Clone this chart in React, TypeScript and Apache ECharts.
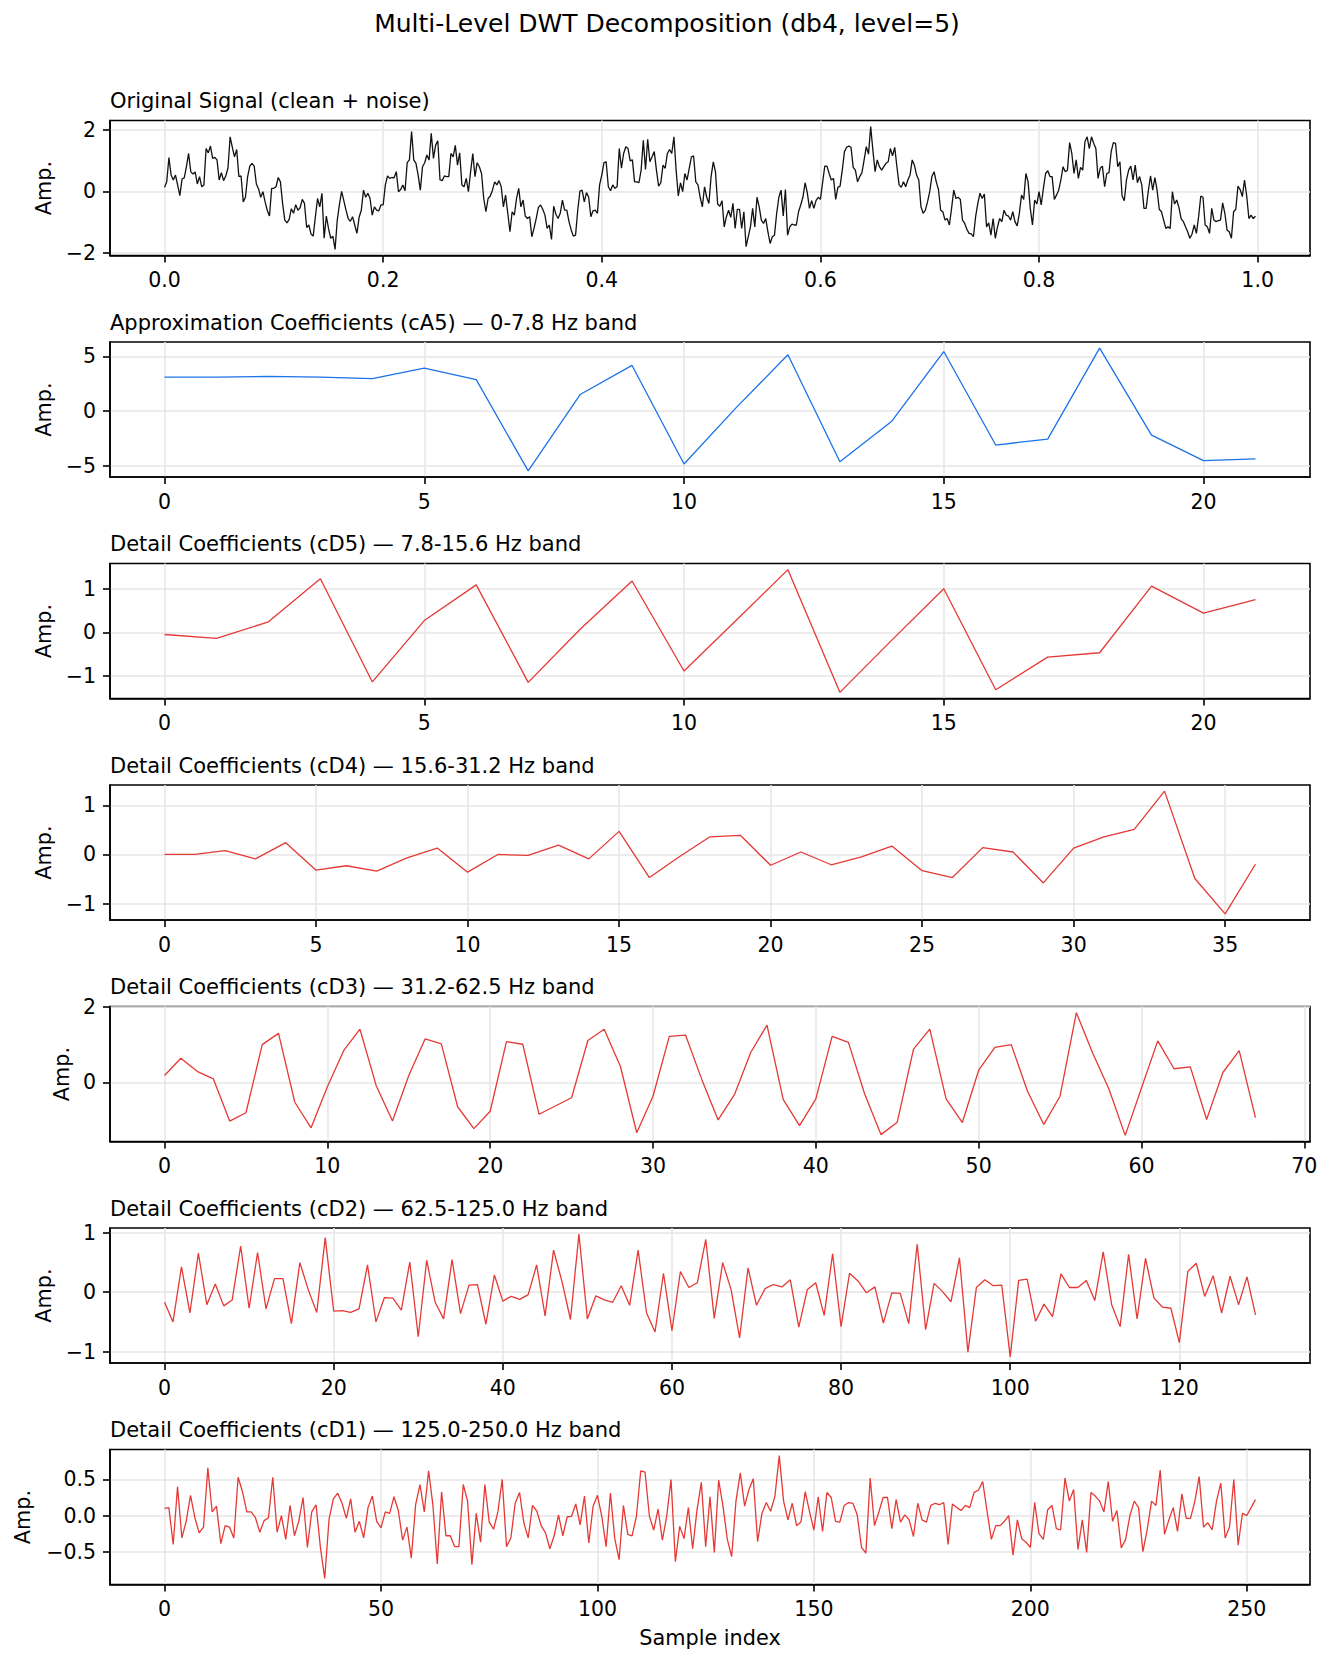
import React, { useEffect, useRef } from "react";
import * as echarts from "echarts";

// ---------------- data ----------------
const SAMPLE_RATE = 500;

const signal = [
  0.13, 0.31, 1.10, 0.53, 0.37, 0.53, 0.20, -0.14, 0.40, 0.44,
  0.80, 1.23, 0.64, 0.56, 0.63, 0.24, 0.48, 0.15, 0.21, 1.39,
  1.25, 1.47, 1.07, 1.10, 1.02, 0.37, 0.61, 0.35, 0.50, 0.75,
  1.77, 1.43, 1.12, 1.36, 0.48, 0.50, -0.34, -0.19, 0.48, 0.82,
  0.91, 0.82, 0.24, 0.08, -0.19, -0.01, -0.34, -0.62, -0.80, 0.10,
  0.10, 0.15, 0.45, 0.31, -0.39, -0.93, -1.02, -0.91, -0.56, -0.71,
  -0.43, -0.61, -0.53, -0.26, -0.39, -1.17, -1.09, -1.38, -1.45, -0.82,
  -0.23, -0.50, -0.06, -1.52, -0.80, -1.20, -1.52, -1.45, -1.88, -0.93,
  -0.42, 0.00, -0.30,
  -0.61, -0.88, -0.97, -0.82, -1.09, -1.36, -0.84, -0.61, 0.04, -0.19,
  -0.06, -0.23, -0.77, -0.50, -0.61, -0.63, -0.44, -0.44, 0.21, 0.50,
  0.42, 0.45, 0.44, 0.64, -0.01, 0.06, 0.21, 0.02, 0.93, 1.02,
  1.94, 1.02, 0.91, 0.53, 0.04, 0.80, 0.93, 1.18, 1.02, 1.88,
  1.07, 1.50, 1.64, 0.37, 0.35, 0.50, 0.48, 0.48, 1.23, 1.12,
  1.49, 0.85, 1.25, 0.21, 0.15, 0.42, -0.01, 0.64, 1.23, 0.48,
  0.93, 0.80, 0.58, -0.23, -0.66, -0.23, -0.15, 0.04, 0.31, 0.21,
  0.35, 0.15, -0.50, -0.12, -0.71, -1.31, -0.66, -0.77, -0.23, 0.10,
  -0.50, -0.28, -0.80, -0.88, -0.82, -1.47, -1.20, -0.88, -0.52, -0.44,
  -0.58, -0.77, -1.20, -1.09, -1.56, -0.48, -0.74, -0.88, -0.71, -0.28,
  -0.61, -0.61, -0.98, -1.25, -1.45, -1.42, -0.61, 0.01, 0.04, -0.34,
  -0.04, -0.19, -0.82, -0.63, -0.61, -0.71, 0.21, 0.53, 0.93, 0.96,
  0.15, 0.02, 0.21, 0.10, 0.15, 1.39, 0.75, 1.23, 1.45, 1.39,
  0.99, 1.02, 0.31, 0.31, 0.28, 0.69, 1.66, 0.71, 1.69, 0.96,
  1.12, 1.29, 0.69, 0.17, 0.28, 0.85, 0.75, 1.23, 1.36, 1.23,
  1.77, 0.69, -0.15, 0.28, -0.01, 0.58, 0.37, 0.75, 1.12, 1.15,
  0.31, 0.21, -0.19, -0.50, 0.15, -0.19, -0.39, 0.48, 0.96, 0.64,
  -0.41, -0.48, -0.30, -1.15, -0.82, -0.61, -0.84, -0.39, -1.20, -0.58,
  -0.58, -1.20, -0.66, -1.79, -1.47, -1.15, -0.55, -1.15, -0.19, -0.50,
  -0.93, -1.04, -0.88, -1.31, -1.69, -1.47, -1.42, -0.71, -0.19, 0.04,
  -0.80, 0.06, -1.42, -1.15, -1.06, -1.09, -1.09, -0.66, -0.44, -0.19,
  0.28, -0.04, -0.55, -0.30, -0.55, -0.30, -0.19, -0.26, 0.28, 0.82,
  0.82, 0.58, 0.37, 0.42, -0.26, 0.13, 0.17, 0.69, 1.29, 1.43,
  1.47, 1.43, 0.78, 0.69, 0.31, 0.48, 0.61, 1.02, 1.45, 1.21,
  2.10, 1.34, 0.64, 1.02, 0.80, 0.69, 0.80, 0.91, 0.96, 1.39,
  1.15, 1.43, 0.80, 0.21, 0.13, 0.31, 0.15, 0.37, 0.53, 1.02,
  0.85, 0.53, 0.37,
  -0.50, -0.71, -0.61, -0.34, -0.01, 0.48, 0.64, 0.31, 0.06, -0.61,
  -0.66, -0.93, -0.88, -1.09, -0.55, 0.04, -0.23, -0.19, -0.26, -0.93,
  -1.04, -1.23, -1.36, -1.38, -1.47, -0.82, -0.39, -0.06, -0.23, -0.09,
  -1.15, -1.02, -1.42, -0.88, -1.52, -1.15, -0.88, -0.98, -0.61, -0.77,
  -0.80, -0.93, -0.66, -0.98, -1.12, -0.71, -0.12, -0.26, 0.58, 0.31,
  -0.55, -1.09, -0.28, -0.41, -0.01, -0.44, 0.10, 0.58, 0.67, 0.48,
  0.48, -0.26, -0.12, 0.04, 0.37, 0.80, 0.64, 0.69, 1.58, 1.23,
  0.58, 1.02, 0.42, 0.78, 0.69, 1.61, 1.77, 1.39, 1.77, 1.56,
  1.39, 0.42, 0.75, 0.82, 0.15, 0.58, 0.61, 1.29, 1.58, 1.56,
  0.80, 0.96, -0.15, -0.30, 0.37, 0.69, 0.82, 0.37, 0.85, 0.28,
  0.48, 0.21, -0.55, -0.55, 0.02, 0.50, 0.04, 0.45, 0.04, -0.58,
  -0.66, -0.93, -1.20, -1.15, -1.20, -0.01, -0.41, -0.28, -0.52, -0.88,
  -0.98, -1.15, -1.31, -1.52, -1.38, -1.09, -1.36, -0.82, -0.15, -0.19,
  -1.09, -1.15, -1.36, -0.55, -0.93, -0.98, -0.95, -0.93, -0.37, -0.71,
  -1.25, -1.31, -1.52, -0.66, -0.58, 0.17, 0.06, -0.17, 0.37, -0.15,
  -0.88, -0.77, -0.88, -0.80,
];

const cA5 = [3.12, 3.12, 3.18, 3.12, 2.97, 3.94, 2.88, -5.45, 1.52, 4.18, -4.82, 0.30, 5.15, -4.61, -0.91, 5.45, -3.09, -2.55, 5.76, -2.18, -4.52, -4.36];

const cD5 = [-0.05, -0.14, 0.24, 1.23, -1.14, 0.27, 1.09, -1.15, 0.07, 1.18, -0.89, 0.27, 1.44, -1.38, -0.18, 1.00, -1.32, -0.57, -0.47, 1.06, 0.44, 0.75];

const cD4 = [0.00, 0.00, 0.08, -0.09, 0.24, -0.32, -0.23, -0.34, -0.07, 0.13, -0.36, 0.00, -0.02, 0.19, -0.09, 0.47, -0.47, -0.04, 0.36, 0.39, -0.22, 0.05, -0.21, -0.05, 0.17, -0.33, -0.47, 0.14, 0.05, -0.58, 0.13, 0.36, 0.51, 1.29, -0.49, -1.21, -0.20];

const cD3 = [
  0.18, 0.64, 0.29, 0.09, -1.03, -0.81, 1.00, 1.30, -0.53, -1.21,
  -0.12, 0.84, 1.41, -0.09, -1.03, 0.18, 1.15, 1.02, -0.65, -1.23,
  -0.77, 1.08, 1.01, -0.85, -0.63, -0.41, 1.11, 1.41, 0.42, -1.34,
  -0.37, 1.22, 1.25, 0.07, -1.00, -0.33, 0.79, 1.52, -0.46, -1.15,
  -0.44, 1.22, 1.06, -0.31, -1.39, -1.06, 0.88, 1.41, -0.44, -1.07,
  0.32, 0.93, 1.00, -0.24, -1.12, -0.37, 1.85, 0.78, -0.18, -1.41,
  -0.15, 1.10, 0.36, 0.41, -0.99, 0.26, 0.84, -0.94,
];

const cD2 = [
  -0.17, -0.50, 0.43, -0.35, 0.66, -0.21, 0.14, -0.23, -0.13, 0.78,
  -0.27, 0.67, -0.28, 0.23, 0.23, -0.53, 0.50, 0.04, -0.34, 0.92,
  -0.32, -0.31, -0.34, -0.28, 0.46, -0.50, -0.09, -0.10, -0.30, 0.51,
  -0.75, 0.54, -0.17, -0.45, 0.55, -0.36, 0.12, 0.13, -0.54, 0.29,
  -0.15, -0.07, -0.12, -0.04, 0.46, -0.40, 0.71, 0.18, -0.46, 0.98,
  -0.45, -0.06, -0.13, -0.17, 0.11, -0.22, 0.71, -0.35, -0.67, 0.32,
  -0.65, 0.35, 0.08, 0.16, 0.89, -0.44, 0.50, 0.04, -0.77, 0.41,
  -0.22, 0.06, 0.13, 0.09, 0.21, -0.59, 0.04, 0.16, -0.39, 0.65,
  -0.58, 0.32, 0.19, -0.01, 0.09, -0.52, -0.01, -0.02, -0.53, 0.81,
  -0.63, 0.15, 0.01, -0.16, 0.58, -1.01, 0.08, 0.21, 0.11, 0.12,
  -1.09, 0.20, 0.22, -0.49, -0.20, -0.41, 0.31, 0.08, 0.08, 0.20,
  -0.14, 0.68, -0.21, -0.58, 0.64, -0.45, 0.57, -0.10, -0.25, -0.27,
  -0.85, 0.35, 0.49, -0.07, 0.28, -0.35, 0.27, -0.21, 0.26, -0.38,
];

const cD1 = [
  0.10, 0.11, -0.40, 0.40, -0.31, -0.08, 0.28, -0.03, -0.24, -0.16,
  0.66, 0.05, 0.13, -0.39, -0.14, -0.16, -0.31, 0.53, 0.33, 0.05,
  0.05, -0.03, -0.23, -0.07, -0.03, 0.53, -0.23, 0.00, -0.33, 0.14,
  -0.28, -0.08, 0.25, -0.44, 0.05, 0.15, -0.44, -0.87, -0.05, 0.23,
  0.31, 0.17, -0.04, 0.23, -0.23, -0.08, -0.31, 0.11, 0.27, -0.08,
  -0.17, 0.05, 0.03, 0.26, 0.07, -0.34, -0.16, -0.59, 0.15, 0.43,
  0.05, 0.62, 0.14, -0.67, 0.33, -0.28, -0.28, -0.43, -0.43, 0.43,
  0.20, -0.68, 0.03, -0.37, 0.43, -0.09, -0.19, 0.05, 0.50, -0.43,
  -0.31, 0.17, 0.32, -0.10, -0.31, 0.14, 0.06, -0.14, -0.24, -0.46,
  -0.28, 0.01, -0.28, -0.02, -0.01, 0.16, -0.13, 0.27, -0.38, 0.13,
  0.28, -0.01, -0.43, 0.31, -0.32, -0.61, 0.14, -0.26, -0.28, -0.01,
  0.62, 0.60, -0.01, -0.20, 0.09, -0.34, -0.01, 0.50, -0.64, -0.15,
  -0.32, 0.11, -0.46, 0.08, 0.46, -0.43, 0.26, -0.51, 0.49, 0.13,
  -0.33, -0.57, 0.20, 0.59, 0.13, 0.36, 0.51, -0.36, 0.03, 0.18,
  0.06, 0.27, 0.83, 0.20, -0.06, 0.17, -0.14, -0.09, 0.33, 0.05,
  -0.20, 0.26, -0.22, 0.32, 0.25, -0.08, -0.09, 0.14, 0.18, 0.17,
  0.01, -0.44, -0.52, 0.52, -0.14, 0.05, 0.25, 0.25, -0.18, 0.22,
  -0.09, 0.01, -0.06, -0.29, 0.17, -0.06, -0.09, 0.14, 0.17, 0.15,
  0.18, -0.40, 0.16, 0.11, 0.07, 0.14, 0.11, 0.32, 0.35, 0.47,
  0.06, -0.33, -0.14, -0.14, -0.08, 0.00, -0.55, -0.06, -0.32, -0.37,
  -0.44, 0.18, -0.25, -0.33, 0.08, 0.14, -0.18, -0.20, 0.52, 0.20,
  0.36, -0.47, -0.06, -0.51, 0.32, 0.27, 0.20, 0.05, 0.47, -0.08,
  0.07, -0.45, -0.33, 0.00, 0.20, 0.11, -0.50, -0.19, 0.20, 0.14,
  0.63, -0.26, -0.06, 0.11, -0.22, 0.30, -0.04, -0.04, 0.20, 0.54,
  -0.16, -0.10, -0.20, 0.20, 0.45, -0.31, -0.16, 0.50, -0.41, 0.03,
  0.00, 0.11, 0.22,
];

const suptitle = "Multi-Level DWT Decomposition (db4, level=5)";
const panelTitles = [
  "Original Signal (clean + noise)",
  "Approximation Coefficients (cA5) \u2014 0-7.8 Hz band",
  "Detail Coefficients (cD5) \u2014 7.8-15.6 Hz band",
  "Detail Coefficients (cD4) \u2014 15.6-31.2 Hz band",
  "Detail Coefficients (cD3) \u2014 31.2-62.5 Hz band",
  "Detail Coefficients (cD2) \u2014 62.5-125.0 Hz band",
  "Detail Coefficients (cD1) \u2014 125.0-250.0 Hz band",
];
const yLabel = "Amp.";
const xLabel = "Sample index";

const sigXTicks = [0, 0.2, 0.4, 0.6, 0.8, 1.0];
const sigYTicks = [-2, 0, 2];
const cA5XTicks = [0, 5, 10, 15, 20];
const cA5YTicks = [-5, 0, 5];
const cD5XTicks = [0, 5, 10, 15, 20];
const cD5YTicks = [-1, 0, 1];
const cD4XTicks = [0, 5, 10, 15, 20, 25, 30, 35];
const cD4YTicks = [-1, 0, 1];
const cD3XTicks = [0, 10, 20, 30, 40, 50, 60, 70];
const cD3YTicks = [0, 2];
const cD2XTicks = [0, 20, 40, 60, 80, 100, 120];
const cD2YTicks = [-1, 0, 1];
const cD1XTicks = [0, 50, 100, 150, 200, 250];
const cD1YTicks = [-0.5, 0, 0.5];

// ---------------- styling ----------------
const FONT = "DejaVu Sans";
const BLACK_LINE = "#111111";
const BLUE_LINE = "#1a73e8";
const RED_LINE = "#e53935";

const fmt = (v: number, dec: number) => {
  const s = Math.abs(v).toFixed(dec);
  return v < -1e-9 ? "\u2212" + s : s;
};

const padRange = (lo: number, hi: number) => {
  const r = hi - lo;
  return [lo - 0.05 * r, hi + 0.05 * r];
};

export default function App() {
  const ref = useRef<HTMLDivElement>(null);

  useEffect(() => {
    document.body.style.margin = "0";
    if (!ref.current) return;
    const chart = echarts.init(ref.current, undefined, { renderer: "svg" });

    const panels = [
      { title: panelTitles[0], vals: signal, xs: signal.map((_, i) => i / SAMPLE_RATE), color: BLACK_LINE, xT: sigXTicks, yT: sigYTicks, xd: 1, yd: 0, gap: 55 },
      { title: panelTitles[1], vals: cA5, xs: cA5.map((_, i) => i), color: BLUE_LINE, xT: cA5XTicks, yT: cA5YTicks, xd: 0, yd: 0, gap: 55 },
      { title: panelTitles[2], vals: cD5, xs: cD5.map((_, i) => i), color: RED_LINE, xT: cD5XTicks, yT: cD5YTicks, xd: 0, yd: 0, gap: 55 },
      { title: panelTitles[3], vals: cD4, xs: cD4.map((_, i) => i), color: RED_LINE, xT: cD4XTicks, yT: cD4YTicks, xd: 0, yd: 0, gap: 55 },
      { title: panelTitles[4], vals: cD3, xs: cD3.map((_, i) => i), color: RED_LINE, xT: cD3XTicks, yT: cD3YTicks, xd: 0, yd: 0, gap: 38 },
      { title: panelTitles[5], vals: cD2, xs: cD2.map((_, i) => i), color: RED_LINE, xT: cD2XTicks, yT: cD2YTicks, xd: 0, yd: 0, gap: 55 },
      { title: panelTitles[6], vals: cD1, xs: cD1.map((_, i) => i), color: RED_LINE, xT: cD1XTicks, yT: cD1YTicks, xd: 0, yd: 1, gap: 77 },
    ];

    const TOP0 = 120.5;
    const STEP = 221.5;
    const H = 135;
    const LEFT = 110;
    const W = 1200;
    const tickFont = 20.5;
    const labelFont = 20.8;
    const titleFont = 21;

    const grids: any[] = [];
    const xAxes: any[] = [];
    const yAxes: any[] = [];
    const series: any[] = [];
    const graphics: any[] = [
      {
        type: "text",
        x: 667,
        y: 23.5,
        style: {
          text: suptitle,
          fontSize: 25,
          fontFamily: FONT,
          fill: "#000",
          align: "center",
          verticalAlign: "middle",
          textAlign: "center",
          textVerticalAlign: "middle",
        },
      },
    ];

    panels.forEach((p, i) => {
      const top = TOP0 + STEP * i;
      grids.push({ left: LEFT, width: W, top, height: H, show: true, borderColor: "#000", borderWidth: 1.6, backgroundColor: "transparent", containLabel: false });
      const [xmin, xmax] = padRange(Math.min(...p.xs), Math.max(...p.xs));
      const [ymin, ymax] = padRange(Math.min(...p.vals), Math.max(...p.vals));
      const last = i === panels.length - 1;
      xAxes.push({
        type: "value",
        gridIndex: i,
        min: xmin,
        max: xmax,
        axisLine: { show: true, onZero: false, lineStyle: { color: "#000", width: 1.6 } },
        axisTick: { show: true, length: 7, inside: false, customValues: p.xT, lineStyle: { color: "#000", width: 1.6 } },
        axisLabel: {
          customValues: p.xT,
          margin: 14,
          fontSize: tickFont,
          fontFamily: FONT,
          color: "#000",
          formatter: (v: number) => fmt(v, p.xd),
        },
        splitLine: { show: true, lineStyle: { color: "#e6e6e6", width: 1.5 } },
        name: last ? xLabel : "",
        nameLocation: "middle",
        nameGap: 43,
        nameTextStyle: { fontSize: labelFont, fontFamily: FONT, color: "#000" },
      });
      yAxes.push({
        type: "value",
        gridIndex: i,
        min: ymin,
        max: ymax,
        axisLine: { show: true, onZero: false, lineStyle: { color: "#000", width: 1.6 } },
        axisTick: { show: true, length: 7, inside: false, customValues: p.yT, lineStyle: { color: "#000", width: 1.6 } },
        axisLabel: {
          customValues: p.yT,
          margin: 14,
          fontSize: tickFont,
          fontFamily: FONT,
          color: "#000",
          formatter: (v: number) => fmt(v, p.yd),
        },
        splitLine: { show: true, lineStyle: { color: "#e6e6e6", width: 1.5 } },
        name: yLabel,
        nameLocation: "middle",
        nameGap: p.gap,
        nameTextStyle: { fontSize: labelFont, fontFamily: FONT, color: "#000" },
      });
      series.push({
        type: "line",
        xAxisIndex: i,
        yAxisIndex: i,
        data: p.xs.map((x, k) => [x, p.vals[k]]),
        symbol: "none",
        showSymbol: false,
        lineStyle: { color: p.color, width: 1.3 },
        silent: true,
        z: 3,
      });
      graphics.push({
        type: "text",
        x: LEFT,
        y: top - 19.5,
        style: {
          text: p.title,
          fontSize: titleFont,
          fontFamily: FONT,
          fill: "#000",
          align: "left",
          verticalAlign: "middle",
          textAlign: "left",
          textVerticalAlign: "middle",
        },
      });
    });

    chart.setOption({
      animation: false,
      backgroundColor: "#ffffff",
      textStyle: { fontFamily: FONT },
      grid: grids,
      xAxis: xAxes,
      yAxis: yAxes,
      series,
      graphic: graphics,
    });

    return () => chart.dispose();
  }, []);

  return <div ref={ref} style={{ width: 1333, height: 1665 }} />;
}
